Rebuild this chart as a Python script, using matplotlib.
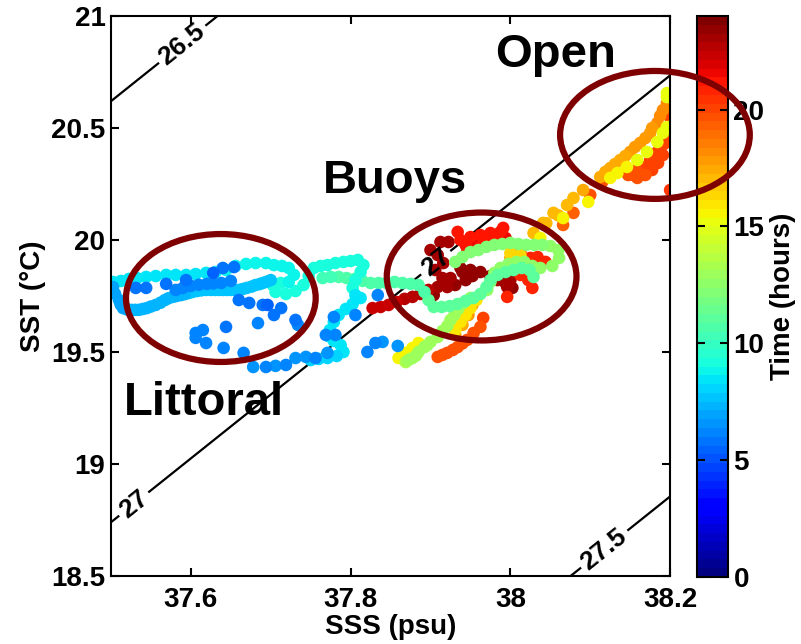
"""
SSS / SST diagram of the ship track, coloured by time,
with sigma-t isopycnals and the three water-mass regions.
"""

import numpy as np
import matplotlib
matplotlib.use('Agg')
import matplotlib.pyplot as plt
from matplotlib.patches import Ellipse

plt.rcParams['font.family'] = ['Liberation Sans', 'DejaVu Sans']
plt.rcParams['font.weight'] = 'bold'
plt.rcParams['font.size'] = 20

# ---- track samples: (SSS psu, SST degC, time hours) ----
blue_track = [
    (37.531, 19.786, 5.8), (37.544, 19.786, 5.9), (37.569, 19.804, 5.7), (37.594, 19.821, 5.9),
    (37.606, 19.585, 6.1), (37.615, 19.598, 6.0), (37.606, 19.563, 6.2), (37.619, 19.540, 6.1),
    (37.644, 19.612, 5.9), (37.641, 19.518, 6.0), (37.628, 19.853, 5.6), (37.640, 19.875, 5.7),
    (37.654, 19.879, 5.8), (37.660, 19.732, 5.8), (37.673, 19.719, 5.9), (37.690, 19.710, 5.7),
    (37.684, 19.629, 6.0), (37.666, 19.496, 6.3), (37.678, 19.433, 6.4), (37.694, 19.433, 6.3),
    (37.706, 19.438, 6.4), (37.719, 19.442, 6.3), (37.731, 19.473, 6.5), (37.744, 19.478, 6.4),
    (37.756, 19.473, 6.3), (37.771, 19.496, 6.4), (37.696, 19.710, 5.6), (37.704, 19.665, 5.8),
    (37.713, 19.696, 5.7), (37.731, 19.643, 5.9), (37.734, 19.621, 6.0), (37.779, 19.656, 6.2),
    (37.769, 19.576, 6.1), (37.781, 19.576, 6.0), (37.806, 19.665, 6.2), (37.834, 19.754, 6.1),
    (37.821, 19.500, 6.3), (37.831, 19.540, 6.2), (37.840, 19.545, 6.4), (37.859, 19.527, 6.5),
    (37.581, 19.777, 6.0), (37.600, 19.795, 6.1), (37.620, 19.804, 6.0), (37.638, 19.808, 6.1),
    (37.650, 19.817, 6.0), (37.590, 19.786, 6.2), (37.610, 19.800, 6.2), (37.628, 19.806, 6.1),
]

lightblue_track = [
    (37.5025, 19.790, 7.0), (37.505, 19.760, 7.0), (37.510, 19.732, 7.1), (37.512, 19.712, 7.1),
    (37.515, 19.696, 7.1), (37.520, 19.690, 7.2), (37.525, 19.688, 7.2), (37.530, 19.688, 7.2),
    (37.535, 19.688, 7.2), (37.540, 19.692, 7.3), (37.545, 19.696, 7.3), (37.550, 19.703, 7.3),
    (37.556, 19.710, 7.3), (37.562, 19.720, 7.3), (37.5675, 19.732, 7.4), (37.572, 19.740, 7.4),
    (37.5775, 19.746, 7.4), (37.582, 19.750, 7.4), (37.5875, 19.754, 7.4), (37.592, 19.758, 7.4),
    (37.5975, 19.763, 7.5), (37.602, 19.768, 7.5), (37.6075, 19.772, 7.5), (37.613, 19.775, 7.5),
    (37.619, 19.777, 7.5), (37.625, 19.777, 7.5), (37.630, 19.777, 7.5), (37.635, 19.777, 7.6),
    (37.640, 19.777, 7.6), (37.645, 19.777, 7.6), (37.650, 19.777, 7.6), (37.655, 19.777, 7.6),
    (37.660, 19.777, 7.6), (37.665, 19.781, 7.6), (37.670, 19.786, 7.7), (37.676, 19.792, 7.7),
    (37.681, 19.799, 7.7), (37.686, 19.803, 7.7), (37.690, 19.808, 7.8), (37.695, 19.814, 7.8),
    (37.700, 19.821, 7.8),
]

cyan_track = [
    (37.5025, 19.8125, 8.3), (37.5125, 19.817, 8.3), (37.5225, 19.826, 8.4), (37.5325, 19.830, 8.4),
    (37.544, 19.835, 8.4), (37.556, 19.839, 8.5), (37.569, 19.844, 8.5), (37.581, 19.844, 8.5),
    (37.594, 19.844, 8.6), (37.606, 19.848, 8.6), (37.619, 19.853, 8.6), (37.631, 19.857, 8.7),
    (37.644, 19.866, 8.7), (37.656, 19.884, 8.7), (37.669, 19.893, 8.8), (37.681, 19.897, 8.8),
    (37.694, 19.897, 8.8), (37.704, 19.888, 8.8), (37.714, 19.884, 8.9), (37.7225, 19.875, 8.9),
    (37.729, 19.844, 8.9), (37.7225, 19.8125, 8.9), (37.7125, 19.808, 9.0), (37.7025, 19.799, 9.0),
    (37.706, 19.768, 9.0), (37.719, 19.759, 9.0), (37.731, 19.772, 9.0), (37.741, 19.799, 9.1),
    (37.7475, 19.839, 9.1), (37.754, 19.875, 9.1), (37.7625, 19.884, 9.1), (37.771, 19.888, 9.1),
    (37.781, 19.897, 9.2), (37.791, 19.902, 9.2), (37.800, 19.906, 9.2), (37.809, 19.911, 9.2),
    (37.816, 19.888, 9.2), (37.8125, 19.857, 9.2), (37.806, 19.821, 9.3), (37.8025, 19.786, 9.3),
    (37.806, 19.754, 8.6), (37.8125, 19.741, 8.6), (37.8025, 19.714, 8.5), (37.794, 19.692, 8.5),
    (37.785, 19.665, 8.5), (37.779, 19.634, 8.4), (37.774, 19.598, 8.4), (37.7725, 19.571, 8.4),
    (37.779, 19.549, 8.3), (37.7875, 19.531, 8.3), (37.791, 19.500, 8.3), (37.7825, 19.482, 8.2),
    (37.771, 19.473, 8.2), (37.760, 19.469, 8.2), (37.750, 19.464, 8.2),
]

aqua_track = [
    (37.765, 19.830, 10.4), (37.775, 19.835, 10.4), (37.785, 19.835, 10.5), (37.795, 19.830, 10.5),
    (37.805, 19.826, 10.5), (37.815, 19.817, 10.6), (37.825, 19.808, 10.6), (37.835, 19.808, 10.6),
    (37.845, 19.808, 10.7), (37.855, 19.8125, 10.7), (37.865, 19.808, 10.7), (37.875, 19.804, 10.8),
    (37.885, 19.799, 10.8), (37.8925, 19.768, 10.8), (37.8975, 19.732, 10.9), (37.904, 19.701, 10.9),
    (37.914, 19.701, 10.9), (37.924, 19.705, 11.0), (37.934, 19.714, 11.0), (37.944, 19.728, 11.0),
    (37.954, 19.741, 11.0), (37.9625, 19.759, 11.1), (37.970, 19.790, 11.1), (37.975, 19.821, 11.1),
    (37.984, 19.844, 11.1), (37.994, 19.857, 11.2), (38.004, 19.866, 11.2), (38.014, 19.875, 11.2),
    (38.024, 19.866, 11.2), (38.029, 19.835, 11.2),
]

green_track = [
    (37.931, 19.902, 12.0), (37.940, 19.924, 12.0), (37.950, 19.946, 12.1), (37.960, 19.955, 12.1),
    (37.970, 19.969, 12.1), (37.980, 19.978, 12.2), (37.990, 19.982, 12.2), (38.000, 19.987, 12.2),
    (38.010, 19.982, 12.3), (38.020, 19.978, 12.3), (38.030, 19.978, 12.3), (38.040, 19.978, 12.3),
    (38.050, 19.973, 12.4), (38.060, 19.955, 12.4), (38.061, 19.920, 12.4), (38.0525, 19.884, 12.4),
    (38.0375, 19.875, 12.5), (38.0275, 19.884, 12.5), (38.0175, 19.902, 12.5), (38.0075, 19.902, 12.5),
    (37.9975, 19.893, 12.6), (37.9875, 19.875, 12.6), (37.980, 19.853, 12.6), (37.975, 19.8125, 12.6),
    (37.971, 19.777, 12.7),
    (37.869, 19.455, 13.2), (37.8775, 19.473, 13.1), (37.885, 19.500, 13.1), (37.8925, 19.522, 13.0),
    (37.900, 19.545, 13.0), (37.909, 19.567, 12.9), (37.915, 19.594, 12.9), (37.921, 19.616, 12.9),
    (37.925, 19.643, 12.8), (37.930, 19.665, 12.8), (37.935, 19.692, 12.8), (37.941, 19.719, 12.7),
    (37.950, 19.741, 12.7), (37.8725, 19.465, 13.1), (37.882, 19.484, 13.1), (37.896, 19.530, 13.0),
]

yellow_track = [
    (37.860, 19.473, 15.4), (37.869, 19.496, 15.4), (37.8775, 19.518, 15.5), (37.885, 19.540, 15.5),
    (37.931, 19.598, 15.8), (37.9375, 19.634, 15.8), (37.944, 19.665, 15.9), (37.950, 19.696, 15.9),
    (37.9575, 19.732, 16.0), (38.000, 19.942, 16.2), (38.0125, 19.933, 16.2),
    (38.0375, 20.009, 15.6), (38.066, 20.098, 15.6), (38.0975, 20.170, 15.5), (38.125, 20.277, 15.5),
    (38.134, 20.299, 15.4), (38.146, 20.326, 15.4), (38.159, 20.357, 15.3), (38.171, 20.393, 15.3),
    (38.184, 20.4375, 15.2), (38.191, 20.478, 15.2), (38.196, 20.504, 15.1), (38.196, 20.638, 15.0),
    (38.196, 20.656, 15.0),
]

orange_track = [
    (38.029, 20.031, 17.0), (38.041, 20.076, 17.1), (38.054, 20.121, 17.1), (38.071, 20.156, 17.2),
    (38.079, 20.1875, 17.2), (38.091, 20.223, 17.3), (38.1125, 20.281, 17.4), (38.119, 20.304, 17.4),
    (38.125, 20.321, 17.5), (38.131, 20.339, 17.5), (38.1375, 20.357, 17.6), (38.144, 20.375, 17.6),
    (38.150, 20.393, 17.7), (38.156, 20.415, 17.7), (38.1625, 20.433, 17.8), (38.169, 20.455, 17.8),
    (38.175, 20.478, 17.9), (38.1775, 20.500, 17.9), (38.184, 20.522, 18.0), (38.1875, 20.554, 18.0),
    (38.191, 20.580, 18.1), (38.196, 20.612, 18.1),
    (37.931, 19.576, 17.6), (37.940, 19.621, 17.6), (37.9475, 19.665, 17.7), (37.9525, 19.710, 17.7),
    (38.000, 19.920, 17.3), (38.0125, 19.925, 17.3), (38.045, 20.075, 17.0), (38.060, 20.110, 17.1),
]

red_orange_track = [
    (38.066, 20.067, 19.4), (38.079, 20.121, 19.4), (38.100, 20.201, 19.5), (38.115, 20.259, 19.5),
    (38.1475, 20.290, 19.8), (38.1575, 20.3125, 19.8), (38.166, 20.326, 19.9), (38.175, 20.357, 19.9),
    (38.184, 20.393, 20.0), (38.191, 20.433, 20.0), (38.196, 20.455, 20.1), (38.200, 20.446, 20.1),
    (38.200, 20.549, 20.2), (38.200, 20.612, 20.2), (38.200, 20.223, 20.3),
    (38.1625, 20.304, 19.9), (38.169, 20.321, 19.9), (38.175, 20.344, 20.0), (38.181, 20.371, 20.0),
    (38.1875, 20.402, 20.1), (38.1925, 20.429, 20.1), (38.169, 20.290, 19.8), (38.1775, 20.3125, 19.9),
    (38.185, 20.344, 20.0), (38.191, 20.379, 20.0), (38.154, 20.290, 19.8), (38.159, 20.277, 19.8),
    (37.909, 19.478, 19.6), (37.921, 19.496, 19.6), (37.934, 19.522, 19.7), (37.946, 19.554, 19.7),
    (37.954, 19.585, 19.8), (37.9625, 19.612, 19.8), (37.966, 19.652, 19.9), (37.915, 19.487, 19.6),
    (37.928, 19.509, 19.7), (37.940, 19.538, 19.7),
]

red_track = [
    (37.9375, 20.000, 21.0), (37.950, 20.013, 21.0), (37.9625, 20.022, 21.1), (37.975, 20.031, 21.1),
    (37.9875, 20.036, 21.2), (37.984, 19.987, 21.2), (37.9625, 19.969, 21.3), (37.946, 19.955, 21.3),
    (38.0125, 19.942, 20.9), (38.025, 19.920, 20.9), (38.034, 19.924, 20.8), (38.0275, 19.786, 20.8),
    (37.996, 19.746, 20.9), (37.9725, 19.978, 21.4), (37.956, 19.987, 21.4), (37.994, 20.009, 21.5),
    (38.0025, 19.946, 21.5), (38.044, 19.902, 20.8), (37.934, 20.036, 21.0), (37.944, 19.978, 21.2),
    (37.969, 20.000, 21.1), (37.981, 20.018, 21.2), (37.991, 20.054, 21.3), (38.006, 19.902, 20.9),
    (38.019, 19.888, 20.9), (38.0375, 19.902, 20.8), (38.0225, 19.821, 20.9), (38.0125, 19.844, 20.9),
]

dark_red_track = [
    (37.9125, 19.991, 23.0), (37.9225, 19.991, 23.0), (37.909, 19.933, 23.1), (37.916, 19.897, 23.1),
    (37.915, 19.830, 23.2), (37.925, 19.830, 23.2), (37.909, 19.790, 23.2), (37.921, 19.790, 23.2),
    (37.904, 19.754, 23.3), (37.950, 19.866, 23.4), (37.9625, 19.857, 23.3), (37.984, 19.821, 23.2),
    (37.996, 19.790, 23.1), (38.000, 19.821, 23.1), (37.9375, 19.875, 23.4), (37.975, 19.839, 23.3),
    (37.900, 19.955, 23.0), (37.906, 19.866, 23.2), (37.931, 19.799, 23.3), (37.944, 19.821, 23.4),
    (37.940, 19.857, 23.5), (37.9525, 19.839, 23.5), (37.994, 19.808, 23.4), (38.0025, 19.786, 23.3),
    (37.8275, 19.696, 22.3), (37.8375, 19.701, 22.3), (37.8475, 19.710, 22.4), (37.8575, 19.723, 22.4),
    (37.8675, 19.737, 22.5), (37.8775, 19.746, 22.5), (37.8875, 19.759, 22.6), (37.8975, 19.777, 22.6),
]

# ---- isopycnals (linear equation of state fitted to the plotted lines) ----
sigma_levels = [26.5, 27.0, 27.5]
SIGMA_REF, S_REF, T_REF = 27.0, 37.5, 18.74
BETA, ALPHA = 0.758, 0.266
label_positions = [(37.59, 20.87), (37.531, 18.81), (37.904, 19.91), (38.1175, 18.62)]

# ---- regions: (name, text position, ellipse centre) ----
region_names = ['Littoral', 'Buoys', 'Open']
region_text_xy = [(37.516, 19.219), (37.765, 20.21), (37.981, 20.772)]
region_centres = [(37.6375, 19.741), (37.964, 19.837), (38.181, 20.469)]
ellipse_w, ellipse_h = 0.2375, 0.571
ellipse_color = '#7f0000'


def make_chart():
    fig = plt.figure(figsize=(8.01, 6.44), dpi=100)
    ax = fig.add_axes([0.1386, 0.1056, 0.698, 0.8696])
    cax = fig.add_axes([0.870, 0.104, 0.0387, 0.871])

    # isopycnals
    s_grid = np.linspace(37.5, 38.2, 60)
    t_grid = np.linspace(18.5, 21.0, 60)
    S, T = np.meshgrid(s_grid, t_grid)
    sigma = SIGMA_REF + BETA * (S - S_REF) - ALPHA * (T - T_REF)
    cs = ax.contour(S, T, sigma, levels=sigma_levels, colors='k', linewidths=1.6, zorder=1)
    labels = ax.clabel(cs, fmt='%g', fontsize=19, manual=label_positions,
                       inline=True, inline_spacing=4)
    for t in labels:
        t.set_fontweight('bold')
        t.set_zorder(3)

    # scatter, latest first so earlier samples sit on top
    points = (blue_track + lightblue_track + cyan_track + aqua_track + green_track +
              yellow_track + orange_track + red_orange_track + red_track + dark_red_track)
    points = sorted(points, key=lambda p: -p[2])
    sss = [p[0] for p in points]
    sst = [p[1] for p in points]
    hours = [p[2] for p in points]
    jet = plt.get_cmap('jet', 64)
    sc = ax.scatter(sss, sst, c=hours, cmap=jet, vmin=0, vmax=24, s=82,
                    linewidths=0, zorder=2)

    # regions
    for name, (tx, ty), (cx, cy) in zip(region_names, region_text_xy, region_centres):
        ax.text(tx, ty, name, fontsize=34, fontweight='bold', ha='left',
                va='baseline', zorder=5)
        ell = Ellipse((cx, cy), ellipse_w, ellipse_h, fill=False, ec=ellipse_color,
                      lw=4.5, transform=ax.transData, zorder=6, clip_on=False)
        fig.add_artist(ell)

    ax.set_xlim(37.5, 38.2)
    ax.set_ylim(18.5, 21.0)
    ax.set_xticks([37.6, 37.8, 38.0, 38.2])
    ax.set_xticklabels(['37.6', '37.8', '38', '38.2'])
    ax.set_yticks([18.5, 19, 19.5, 20, 20.5, 21])
    ax.set_yticklabels(['18.5', '19', '19.5', '20', '20.5', '21'])
    ax.tick_params(direction='in', top=True, right=True, length=6, width=1.5,
                   labelsize=20)
    ax.tick_params(axis='x', pad=8)
    ax.tick_params(axis='y', pad=4)
    for sp in ax.spines.values():
        sp.set_linewidth(1.5)
    ax.set_xlabel('SSS (psu)', fontsize=20, fontweight='bold', labelpad=1)
    ax.set_ylabel('SST (°C)', fontsize=20, fontweight='bold', labelpad=4)

    cb = fig.colorbar(sc, cax=cax, ticks=[0, 5, 10, 15, 20])
    cb.outline.set_linewidth(1.5)
    cax.tick_params(direction='in', left=True, right=True, length=6, width=1.5,
                    labelsize=20, pad=4)
    cb.set_label('Time (hours)', fontsize=20, fontweight='bold', labelpad=4)

    fig.savefig('out.png', dpi=100, facecolor='white')
    plt.close(fig)


if __name__ == '__main__':
    make_chart()
